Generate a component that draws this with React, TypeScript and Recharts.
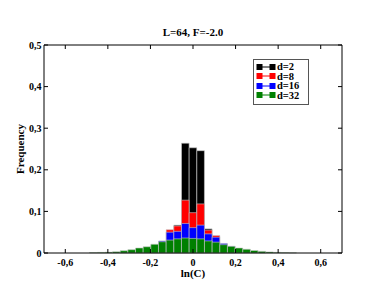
import { Bar, BarChart, Legend, XAxis, YAxis } from 'recharts';

// histogram bin centres of ln(C)
const BIN_CENTERS = [
  -0.468, -0.432, -0.396, -0.36, -0.324, -0.288, -0.252, -0.216, -0.18, -0.144, -0.108, -0.072, -0.036,
  0, 0.036, 0.072, 0.108, 0.144, 0.18, 0.216, 0.252, 0.288, 0.324, 0.36, 0.396, 0.432, 0.468,
];

const FREQ_D2 = [
  0, 0, 0, 0, 0, 0, 0, 0, 0, 0, 0.05, 0.067, 0.264,
  0.253, 0.246, 0.058, 0.04, 0, 0, 0, 0, 0, 0, 0, 0, 0, 0,
];
const FREQ_D8 = [
  0, 0, 0, 0, 0, 0, 0, 0, 0.012, 0.022, 0.056, 0.065, 0.127,
  0.097, 0.118, 0.055, 0.042, 0.02, 0.01, 0, 0, 0, 0, 0, 0, 0, 0,
];
const FREQ_D16 = [
  0, 0, 0, 0, 0.001, 0.003, 0.006, 0.01, 0.018, 0.029, 0.05, 0.052, 0.071,
  0.061, 0.067, 0.046, 0.038, 0.023, 0.016, 0.01, 0.006, 0.003, 0.001, 0, 0, 0, 0,
];
const FREQ_D32 = [
  0.001, 0.0015, 0.002, 0.003, 0.0055, 0.008, 0.012, 0.015, 0.021, 0.027, 0.031, 0.034, 0.036,
  0.035, 0.034, 0.029, 0.026, 0.02, 0.016, 0.012, 0.009, 0.006, 0.004, 0.0025, 0.0015, 0.001, 0.0005,
];

const X_TICKS = [-0.6, -0.5, -0.4, -0.3, -0.2, -0.1, 0, 0.1, 0.2, 0.3, 0.4, 0.5, 0.6];
const Y_TICKS = [0, 0.05, 0.1, 0.15, 0.2, 0.25, 0.3, 0.35, 0.4, 0.45, 0.5];

// each series sits on its own x axis so the bars overlap instead of grouping
const SERIES = [
  { key: 'd2', name: 'd=2', color: '#000000', xAxis: 'bottom', yAxis: 'left' },
  { key: 'd8', name: 'd=8', color: '#ff0000', xAxis: 'x8', yAxis: 'left' },
  { key: 'd16', name: 'd=16', color: '#0000ff', xAxis: 'x16', yAxis: 'left' },
  { key: 'd32', name: 'd=32', color: '#008000', xAxis: 'top', yAxis: 'right' },
];

const data = BIN_CENTERS.map((x, i) => ({
  x,
  d2: FREQ_D2[i],
  d8: FREQ_D8[i],
  d16: FREQ_D16[i],
  d32: FREQ_D32[i],
}));

const FONT = '"Liberation Serif", "Times New Roman", serif';
const X_DOMAIN = [-0.7, 0.7];
const Y_DOMAIN = [0, 0.5];

const fmt = (v: number) => (Math.abs(v) < 1e-9 ? '0' : v.toFixed(1).replace('.', ','));
const majorX = (v: number) => Math.abs(Math.round(v * 10)) % 2 === 0;
const majorY = (v: number) => Math.round(v * 100) % 10 === 0;

function BottomTick({ x, y, payload }: any) {
  const major = majorX(payload.value);
  return (
    <g>
      <line x1={x} x2={x} y1={y} y2={y - (major ? 4 : 2.5)} stroke="#000" />
      {major && (
        <text x={x} y={y + 12.5} textAnchor="middle" fontSize={10} fontWeight="bold" fontFamily={FONT}>
          {fmt(payload.value)}
        </text>
      )}
    </g>
  );
}

function TopTick({ x, y, payload }: any) {
  const major = majorX(payload.value);
  return <line x1={x} x2={x} y1={y} y2={y + (major ? 4 : 2.5)} stroke="#000" />;
}

function LeftTick({ x, y, payload }: any) {
  const major = majorY(payload.value);
  return (
    <g>
      <line x1={x} x2={x + (major ? 4 : 2.5)} y1={y} y2={y} stroke="#000" />
      {major && (
        <text x={x - 2.5} y={y} dy="0.35em" textAnchor="end" fontSize={10} fontWeight="bold" fontFamily={FONT}>
          {fmt(payload.value)}
        </text>
      )}
    </g>
  );
}

function RightTick({ x, y, payload }: any) {
  const major = majorY(payload.value);
  return <line x1={x} x2={x - (major ? 4 : 2.5)} y1={y} y2={y} stroke="#000" />;
}

function LegendBox() {
  return (
    <div
      style={{
        border: '1px solid #555',
        background: '#fff',
        padding: '2px 0 4px 2px',
        fontFamily: FONT,
        fontWeight: 'bold',
        fontSize: 10.5,
      }}
    >
      {SERIES.map((s) => (
        <div key={s.key} style={{ display: 'flex', alignItems: 'center', height: 9.5, lineHeight: '9.5px' }}>
          <svg width={20} height={8} style={{ display: 'block' }}>
            <line x1={3} x2={17} y1={4} y2={4} stroke={s.color} />
            <rect x={0.5} y={1} width={6} height={6} fill={s.color} />
            <rect x={13.5} y={1} width={6} height={6} fill={s.color} />
          </svg>
          <span style={{ marginLeft: 1 }}>{s.name}</span>
        </div>
      ))}
    </div>
  );
}

export default function App() {
  return (
    <div style={{ position: 'absolute', left: 0, top: 0, width: 385, height: 298, background: '#fff' }}>
      <BarChart width={385} height={298} data={data} margin={{ top: 44, right: 42, bottom: 0, left: 0 }}>
        <XAxis
          xAxisId="bottom"
          dataKey="x"
          type="number"
          domain={X_DOMAIN}
          ticks={X_TICKS}
          height={45}
          tickSize={0}
          tickMargin={0}
          tick={<BottomTick />}
          axisLine={{ stroke: '#000' }}
          label={{ value: 'ln(C)', position: 'insideTop', offset: 16, fontSize: 11, fontWeight: 'bold', fontFamily: FONT, fill: '#000' }}
        />
        <XAxis
          xAxisId="top"
          orientation="top"
          dataKey="x"
          type="number"
          domain={X_DOMAIN}
          ticks={X_TICKS}
          height={1}
          tickSize={0}
          tickMargin={0}
          tick={<TopTick />}
          axisLine={{ stroke: '#000' }}
          label={{ value: 'L=64, F=-2.0', position: 'top', offset: 8, fontSize: 11, fontWeight: 'bold', fontFamily: FONT, fill: '#000' }}
        />
        <XAxis xAxisId="x8" dataKey="x" type="number" domain={X_DOMAIN} hide />
        <XAxis xAxisId="x16" dataKey="x" type="number" domain={X_DOMAIN} hide />
        <YAxis
          yAxisId="left"
          type="number"
          domain={Y_DOMAIN}
          ticks={Y_TICKS}
          width={44}
          tickSize={0}
          tickMargin={0}
          tick={<LeftTick />}
          axisLine={{ stroke: '#000' }}
          label={{ value: 'Frequency', angle: -90, position: 'center', dx: -2, fontSize: 11, fontWeight: 'bold', fontFamily: FONT, fill: '#000' }}
        />
        <YAxis
          yAxisId="right"
          orientation="right"
          type="number"
          domain={Y_DOMAIN}
          ticks={Y_TICKS}
          width={1}
          tickSize={0}
          tickMargin={0}
          tick={<RightTick />}
          axisLine={{ stroke: '#000' }}
        />
        {SERIES.map((s) => (
          <Bar
            key={s.key}
            dataKey={s.key}
            name={s.name}
            xAxisId={s.xAxis}
            yAxisId={s.yAxis}
            fill={s.color}
            stroke="#c8c8c8"
            strokeWidth={0.6}
            barSize={7.6}
            isAnimationActive={false}
          />
        ))}
        <Legend
          layout="vertical"
          align="center"
          verticalAlign="middle"
          content={<LegendBox />}
          wrapperStyle={{ left: 253, top: 59, width: 56, height: 'auto' }}
        />
      </BarChart>
    </div>
  );
}
